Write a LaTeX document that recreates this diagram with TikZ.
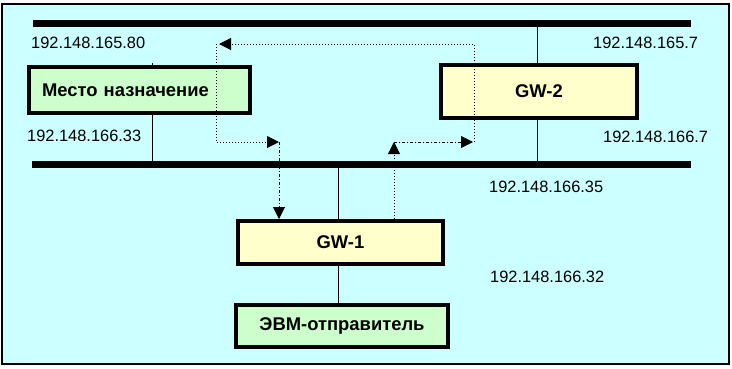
\documentclass[tikz,border=0pt]{standalone}
\usepackage{fontspec}
\setmainfont{Liberation Sans}
\usetikzlibrary{arrows.meta}
\definecolor{bgcyan}{HTML}{CCFFFF}
\definecolor{boxgreen}{HTML}{CCFFCC}
\definecolor{boxyellow}{HTML}{FFFFCC}
\tikzset{
  box/.style={draw=black, line width=4pt, rectangle, inner sep=0pt,
    font=\fontsize{18.4}{21}\selectfont\bfseries},
  greenbox/.style={box, fill=boxgreen},
  yellowbox/.style={box, fill=boxyellow},
  bus/.style={line width=6.5pt, black},
  wire/.style={line width=1pt, black},
  ip/.style={anchor=west, inner sep=0pt, font=\fontsize{16.4}{19}\selectfont},
  route/.style={line width=1pt, dash pattern=on 1pt off 2pt},
  routedd/.style={line width=1pt, dash pattern=on 3pt off 2pt on 1pt off 2pt},
  tip/.style={-{Triangle[length=12pt,width=12pt]}}
}
\begin{document}
\begin{tikzpicture}[x=1pt,y=-1pt]
\useasboundingbox (0,0) rectangle (732,368);
\fill[white] (0,0) rectangle (732,368);
\draw[fill=bgcyan, line width=1.5pt] (2,4) rectangle (729,364);

% buses
\coordinate (tb1) at (33,23.5);
\coordinate (tb2) at (691,23.5);
\coordinate (bb1) at (32,164.5);
\coordinate (bb2) at (691,164.5);
\draw[bus] (tb1) -- (tb2);
\draw[bus] (bb1) -- (bb2);

% boxes
\node[greenbox, minimum width=221pt, minimum height=46pt, text width=195pt,
  align=left, inner xsep=13pt] (dest) at (139.5,90) {Место назначение};
\node[yellowbox, minimum width=196pt, minimum height=53pt] (gw2) at (539,91.5) {GW-2};
\node[yellowbox, minimum width=205pt, minimum height=43pt] (gw1) at (340.5,242.5) {GW-1};
\node[greenbox, minimum width=212pt, minimum height=42pt] (evm) at (342,326) {ЭВМ-отправитель};

% wires
\coordinate (dstub) at (152,63);
\draw[wire] (dstub) -- (dstub |- dest.north);
\draw[wire] (dest.south -| dstub) -- (dstub |- bb1);
\coordinate (g2x) at (537,0);
\draw[wire] (g2x |- tb1) -- (g2x |- gw2.north);
\draw[wire] (g2x |- gw2.south) -- (g2x |- bb1);
\coordinate (g1x) at (338,0);
\draw[wire] (g1x |- bb1) -- (g1x |- gw1.north);
\draw[wire] (g1x |- gw1.south) -- (g1x |- evm.north);

% labels
\node[ip] (l1) at (31,43) {192.148.165.80};
\node[ip] (l2) at (27,136) {192.148.166.33};
\node[ip] (l3) at (593,43) {192.148.165.7};
\node[ip] (l4) at (603,137) {192.148.166.7};
\node[ip] (l5) at (489,187) {192.148.166.35};
\node[ip] (l6) at (490,277) {192.148.166.32};

% route
\coordinate (r1) at (394,142);
\coordinate (r2) at (473,142);
\coordinate (r3) at (474,142);
\coordinate (r4) at (474,44);
\coordinate (r5) at (219,44);
\coordinate (r6) at (216,44);
\coordinate (r7) at (216,142);
\coordinate (r8) at (279,142);
\draw[route, tip] (gw1.north -| r1) -- (r1);
\draw[routedd, tip] (r1) -- (r2);
\draw[route, tip] (r3) -- (r4) -- (r5);
\draw[route, tip] (r6) -- (r7) -- (r8);
\draw[routedd, tip] (r8) -- (r8 |- gw1.north);
\end{tikzpicture}
\end{document}
